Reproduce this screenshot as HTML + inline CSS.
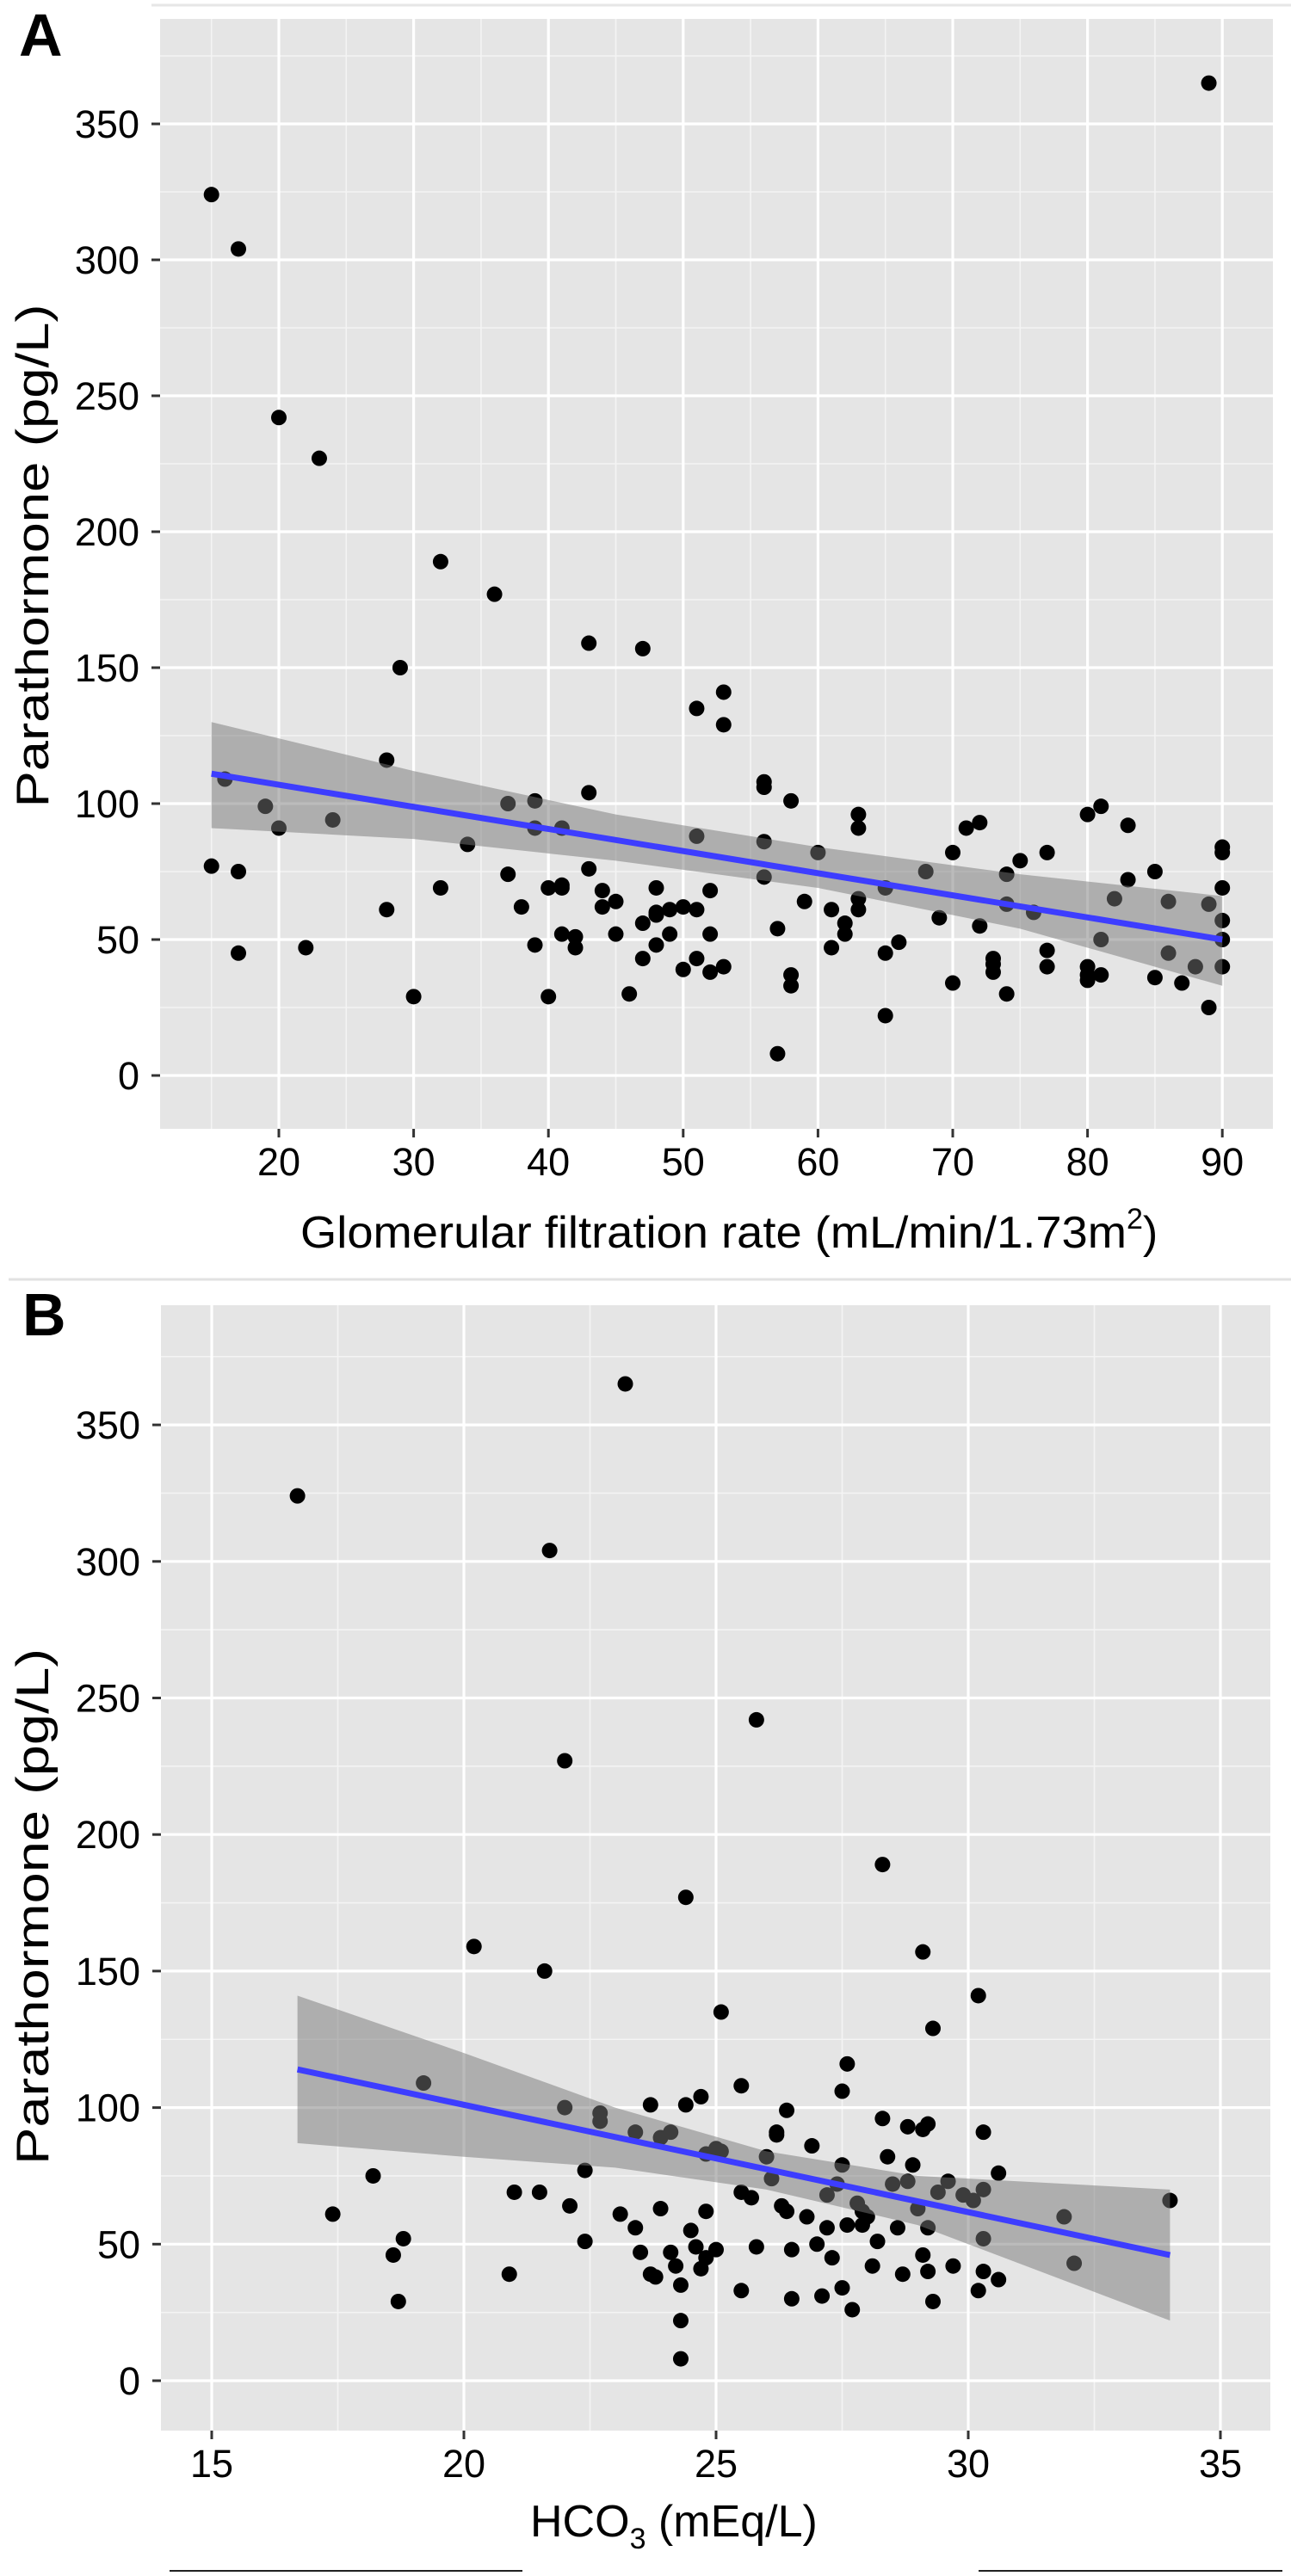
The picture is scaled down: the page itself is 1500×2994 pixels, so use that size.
<!DOCTYPE html>
<html>
<head>
<meta charset="utf-8">
<style>
  html,body{margin:0;padding:0;background:#fff;}
  svg{display:block;}
  text{font-family:"Liberation Sans",Arial,sans-serif;fill:#000;}
</style>
</head>
<body>
<svg id="fig" width="1500" height="2994" viewBox="0 0 1500 2994" xmlns="http://www.w3.org/2000/svg">
  <line x1="176" y1="6" x2="1500" y2="6" stroke="#e6e6e6" stroke-width="3"/>
  <line x1="10" y1="1487" x2="1500" y2="1487" stroke="#e2e2e2" stroke-width="3"/>
  <line x1="197" y1="2988" x2="607" y2="2988" stroke="#222" stroke-width="2"/>
  <line x1="1137" y1="2988" x2="1490" y2="2988" stroke="#222" stroke-width="2"/>
  <g id="panelA"></g>
  <g id="panelB"></g>
</svg>
<script>
// ---- Panel A data ----
const gfr = [15,17,20,23,32,36,29,43,47,53,51,53,28,16,19,20,24,15,17,17,22,28,30,32,34,37,37,38,39,39,39,40,40,41,41,41,41,42,42,43,43,44,44,45,45,46,47,47,48,48,48,48,49,49,50,50,51,51,51,52,52,52,53,56,56,56,56,57,57,58,58,58,59,60,61,61,62,62,63,63,63,63,65,65,65,66,68,69,70,70,71,72,72,73,73,73,74,74,74,75,76,77,77,77,80,80,80,80,81,81,81,82,83,83,85,85,86,86,87,88,89,89,90,90,90,90,90,90,89];
const pthA = [324,304,242,227,189,177,150,159,157,141,135,129,116,109,99,91,94,77,75,45,47,61,29,69,85,100,74,62,101,91,48,69,29,91,70,52,69,51,47,104,76,68,62,64,52,30,56,43,69,60,48,59,61,52,62,39,88,61,43,68,52,38,40,108,106,86,73,54,8,101,37,33,64,82,61,47,52,56,96,91,65,61,69,45,22,49,75,58,82,34,91,93,55,43,41,38,74,63,30,79,60,82,46,40,96,40,37,35,99,50,37,65,92,72,75,36,64,45,34,40,63,25,84,82,69,57,50,40,365];
const fitXA = [15,90];
const fitYA = [111,50];
const bandXA = [15,30,45,60,75,90];
const bandLoA = [91,87,79,69,54,33];
const bandHiA = [130,112,96,84,74,66];
const xTicksA = [20,30,40,50,60,70,80,90];
const xMinorA = [15,25,35,45,55,65,75,85];
const yTicks = [0,50,100,150,200,250,300,350];
const yMinor = [25,75,125,175,225,275,325,375];

// ---- Panel B data ----
const hco3 = [16.7,23.2,21.7,25.8,22,28.3,24.4,20.2,29.1,21.6,30.2,25.1,29.3,27.6,19.2,25.5,27.5,24.7,23.7,24.4,22,26.4,22.7,22.7,28.3,28.8,29.2,29.1,30.3,23.9,24.1,23.4,26.2,24.8,25,26.9,28.4,26,27.5,28.9,30.6,17.4,18.2,22.4,18.8,18.6,18.7,20.9,21,21.5,22.1,22.4,23.1,23.4,23.7,23.8,23.9,24.1,24.2,24.3,24.3,24.3,24.5,24.6,24.7,24.8,24.8,25,25.1,25.5,25.5,25.7,25.8,26.1,26.2,26.4,26.5,26.5,26.8,27,27.1,27.2,27.3,27.4,27.5,27.6,27.7,27.8,27.9,28,28.1,28.2,28.5,28.6,28.7,28.8,29,29.1,29.2,29.2,29.3,29.4,29.6,29.7,29.9,30.1,30.2,30.3,30.3,30.3,30.6,31.9,32.1,34,27.9,27.2,26.3,23.5];
const pthB = [324,365,304,242,227,189,177,159,157,150,141,135,129,116,109,108,106,104,101,101,100,99,98,95,96,93,94,92,91,89,91,91,91,83,85,86,82,82,79,79,76,61,75,77,52,46,29,39,69,69,64,51,61,56,39,38,63,47,42,35,22,8,55,49,41,45,62,48,84,69,33,67,49,74,90,62,48,30,60,50,31,68,45,72,34,57,26,65,57,60,42,51,72,56,39,73,63,46,56,40,29,69,73,42,68,66,33,52,70,40,37,60,43,66,62,56,64,47];
const fitXB = [16.7,34];
const fitYB = [114,46];
const bandXB = [16.7,20,23,26,29,34];
const bandLoB = [87,82,78,70,57,22];
const bandHiB = [141,120,100,84,75,70];
const xTicksB = [15,20,25,30,35];
const xMinorB = [17.5,22.5,27.5,32.5];

const NS = "http://www.w3.org/2000/svg";
function mk(tag, attrs, parent){
  const e = document.createElementNS(NS, tag);
  for (const k in attrs) e.setAttribute(k, attrs[k]);
  parent.appendChild(e);
  return e;
}

function drawPanel(g, cfg){
  const {left,right,top,bottom,sx,sy} = cfg;
  const bg = mk('rect',{x:left,y:top,width:right-left,height:bottom-top,fill:'#e5e5e5'},g);
  
  
  cfg.yMinor.forEach(v=>{const y=sy(v); if(y>top&&y<bottom){const l=mk('line',{x1:left,x2:right,y1:y,y2:y,stroke:'#f4f4f4','stroke-width':1.6},g);
    
    }});
  cfg.xMinor.forEach(v=>{const x=sx(v); const l=mk('line',{x1:x,x2:x,y1:top,y2:bottom,stroke:'#f4f4f4','stroke-width':1.6},g);
    
    });
  cfg.yTicks.forEach(v=>{const y=sy(v);
    const l=mk('line',{x1:left,x2:right,y1:y,y2:y,stroke:'#fff','stroke-width':3.2},g);
    
    
    const t=mk('line',{x1:left-10,x2:left,y1:y,y2:y,stroke:'#333','stroke-width':3},g);
    
    
    const tx=mk('text',{x:left-24,y:y+16,'font-size':45,'text-anchor':'end'},g);
    tx.textContent=String(v);
    
    
  });
  cfg.xTicks.forEach(v=>{const x=sx(v);
    const l=mk('line',{x1:x,x2:x,y1:top,y2:bottom,stroke:'#fff','stroke-width':3.2},g);
    
    
    const t=mk('line',{x1:x,x2:x,y1:bottom,y2:bottom+10,stroke:'#333','stroke-width':3},g);
    
    
    const tx=mk('text',{x:x,y:bottom+54,'font-size':45,'text-anchor':'middle'},g);
    tx.textContent=String(v);
    
    
  });
  cfg.xs.forEach((v,i)=>{
    const c=mk('circle',{cx:sx(v),cy:sy(cfg.ys[i]),r:9,fill:'#000'},g);
    
    
  });
  let d='';
  cfg.bx.forEach((v,i)=>{d+=(i?'L':'M')+sx(v)+','+sy(cfg.bhi[i]);});
  for(let i=cfg.bx.length-1;i>=0;i--){d+='L'+sx(cfg.bx[i])+','+sy(cfg.blo[i]);}
  const band=mk('path',{d:d+'Z',fill:'rgba(120,120,120,0.5)'},g);
  
  
  const ln=mk('line',{x1:sx(cfg.fx[0]),y1:sy(cfg.fy[0]),x2:sx(cfg.fx[1]),y2:sy(cfg.fy[1]),stroke:'#3d3dff','stroke-width':7},g);
  
  
}

const gA=document.getElementById('panelA');
drawPanel(gA,{left:186,right:1479,top:22,bottom:1312,
  sx:v=>324+(v-20)*15.66, sy:v=>1250-v*3.16,
  xTicks:xTicksA,xMinor:xMinorA,yTicks:yTicks,yMinor:yMinor,
  xs:gfr,ys:pthA,bx:bandXA,blo:bandLoA,bhi:bandHiA,fx:fitXA,fy:fitYA});
const gB=document.getElementById('panelB');
drawPanel(gB,{left:187,right:1476,top:1517,bottom:2825,
  sx:v=>246+(v-15)*58.6, sy:v=>2767-v*3.174,
  xTicks:xTicksB,xMinor:xMinorB,yTicks:yTicks,yMinor:yMinor,
  xs:hco3,ys:pthB,bx:bandXB,blo:bandLoB,bhi:bandHiB,fx:fitXB,fy:fitYB});
</script>
<script>
(function(){
  const svg=document.getElementById('fig');
  const NS="http://www.w3.org/2000/svg";
  function T(x,y,size,txt,name,extra){
    const t=document.createElementNS(NS,'text');
    t.setAttribute('x',x);t.setAttribute('y',y);t.setAttribute('font-size',size);
    for(const k in (extra||{})) t.setAttribute(k,extra[k]);
    t.textContent=txt;
    
    
    svg.appendChild(t);return t;
  }
  T(22,65,70,'A','panel-label-a',{'font-weight':'bold'});
  T(26,1552,70,'B','panel-label-b',{'font-weight':'bold'});
  T(56,646,53,'Parathormone (pg/L)','y-axis-title-a',{'text-anchor':'middle',transform:'rotate(-90 56 646)',textLength:'585',lengthAdjust:'spacingAndGlyphs'});
  T(56,2216,53,'Parathormone (pg/L)','y-axis-title-b',{'text-anchor':'middle',transform:'rotate(-90 56 2216)',textLength:'600',lengthAdjust:'spacingAndGlyphs'});
  const xa=T(349,1450,52,'','x-axis-title-a',{});
  xa.innerHTML='<tspan textLength="960" lengthAdjust="spacingAndGlyphs">Glomerular filtration rate (mL/min/1.73m</tspan><tspan dy="-22" font-size="34">2</tspan><tspan dy="22">)</tspan>';
  const xb=T(616,2948,52,'','x-axis-title-b',{});
  xb.innerHTML='HCO<tspan dy="14" font-size="34">3</tspan><tspan dy="-14"> (mEq/L)</tspan>';
})();
</script>
</body>
</html>
